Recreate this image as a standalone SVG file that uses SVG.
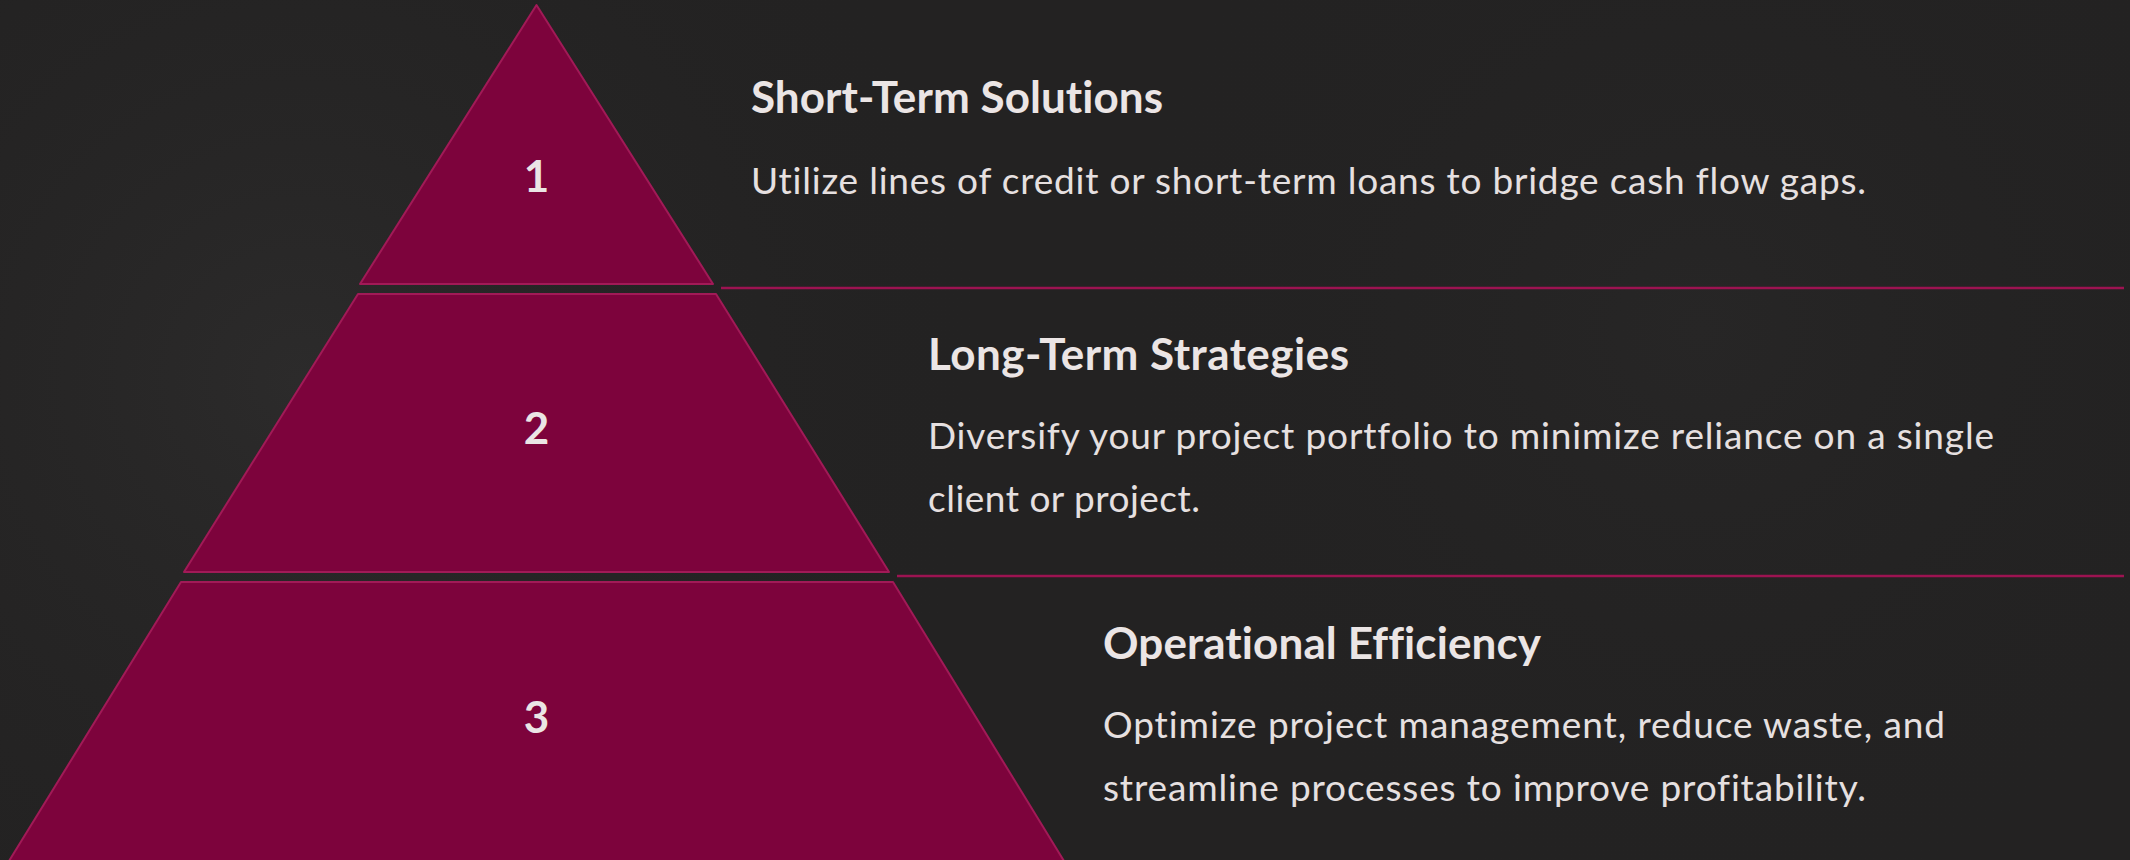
<svg xmlns="http://www.w3.org/2000/svg" width="2130" height="860" viewBox="0 0 2130 860">
  <defs>
    <radialGradient id="glowLeft" cx="300" cy="380" r="700" gradientUnits="userSpaceOnUse">
      <stop offset="0" stop-color="#2c2b2b"/>
      <stop offset="1" stop-color="#232222" stop-opacity="0"/>
    </radialGradient>
    <radialGradient id="glowRight" cx="1700" cy="330" r="600" gradientUnits="userSpaceOnUse">
      <stop offset="0" stop-color="#272626"/>
      <stop offset="1" stop-color="#232222" stop-opacity="0"/>
    </radialGradient>
    <style>
      text { font-variant-ligatures: none; font-feature-settings: "liga" 0, "dlig" 0; }
      .tier { fill: #7d033c; stroke: #a11a57; stroke-width: 2; stroke-linejoin: round; }
      .num { font-family: Lato, "Liberation Sans", sans-serif; font-weight: 700; font-size: 44px; fill: #ebe5e5; text-anchor: middle; }
      .head { font-family: Lato, "Liberation Sans", sans-serif; font-weight: 700; font-size: 44px; fill: #ebe5e5; }
      .body { font-family: Lato, "Liberation Sans", sans-serif; font-weight: 400; font-size: 37px; fill: #e6e0e0; }
      .sep { stroke: #9c1351; stroke-width: 2.5; fill: none; }
    </style>
  </defs>

  <!-- backdrop -->
  <rect width="2130" height="860" fill="#232222"/>
  <rect width="2130" height="860" fill="url(#glowLeft)"/>
  <rect width="2130" height="860" fill="url(#glowRight)"/>

  <!-- divider rules between the levels -->
  <g id="connectors">
    <line class="sep" x1="721" y1="288" x2="2124" y2="288"/>
    <line class="sep" x1="897" y1="576" x2="2124" y2="576"/>
  </g>

  <!-- level 1: top of the pyramid -->
  <g id="tier-1">
    <polygon class="tier" points="536.5,5 713,284 360,284"/>
    <text class="num" x="536.5" y="192">1</text>
    <text class="head" x="751" y="113" textLength="412" lengthAdjust="spacing">Short-Term Solutions</text>
    <text class="body" x="751" y="194" textLength="1115" lengthAdjust="spacing">Utilize lines of credit or short-term loans to bridge cash flow gaps.</text>
  </g>

  <!-- level 2 -->
  <g id="tier-2">
    <polygon class="tier" points="358,294 716,294 889,572 184,572"/>
    <text class="num" x="536.5" y="444">2</text>
    <text class="head" x="928" y="370" textLength="421" lengthAdjust="spacing">Long-Term Strategies</text>
    <text class="body" x="928" y="449" textLength="1066" lengthAdjust="spacing">Diversify your project portfolio to minimize reliance on a single</text>
    <text class="body" x="928" y="512" textLength="272" lengthAdjust="spacing">client or project.</text>
  </g>

  <!-- level 3: base of the pyramid -->
  <g id="tier-3">
    <polygon class="tier" points="181,582 893,582 1064,861 9,861"/>
    <text class="num" x="536.5" y="733">3</text>
    <text class="head" x="1103" y="659" textLength="438" lengthAdjust="spacing">Operational Efficiency</text>
    <text class="body" x="1103" y="738" textLength="842" lengthAdjust="spacing">Optimize project management, reduce waste, and</text>
    <text class="body" x="1103" y="801" textLength="763" lengthAdjust="spacing">streamline processes to improve profitability.</text>
  </g>
</svg>
